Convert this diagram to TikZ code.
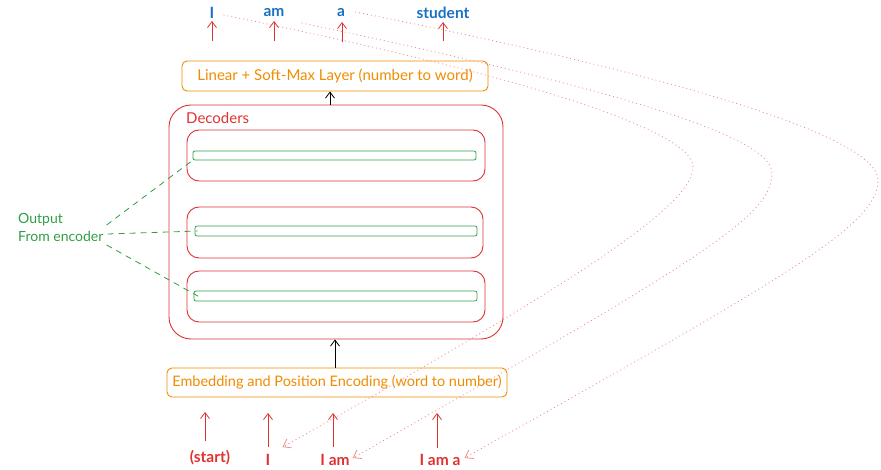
\documentclass[tikz,border=0pt]{standalone}
\usepackage{fontspec}
\setmainfont{Lato}
\usetikzlibrary{arrows.meta,calc}
\definecolor{wordblue}{HTML}{1971C2}
\definecolor{sketchred}{HTML}{E03131}
\definecolor{sketchorange}{HTML}{F08C00}
\definecolor{sketchgreen}{HTML}{2F9E44}
\definecolor{loopred}{HTML}{F08C8C}
\begin{document}
\begin{tikzpicture}[x=1pt,y=-1pt,
  word/.style={text=wordblue,font=\fontsize{15.5}{16}\selectfont\bfseries,inner sep=1pt},
  inword/.style={text=sketchred,font=\fontsize{15.5}{16}\selectfont\bfseries,inner sep=1pt},
  layerbox/.style={draw=sketchorange,line width=0.9pt,rounded corners=5pt,text=sketchorange,
    font=\fontsize{14.5}{16}\selectfont,inner sep=0pt},
  outerbox/.style={draw=sketchred,line width=0.9pt,rounded corners=22pt,inner sep=0pt},
  decbox/.style={draw=sketchred,line width=0.9pt,rounded corners=12pt,inner sep=0pt,
    minimum height=51pt},
  bar/.style={draw=sketchgreen,line width=0.8pt,rounded corners=2pt,inner sep=0pt},
  redarrow/.style={draw=sketchred,line width=0.8pt,-{Straight Barb[length=6pt,width=9pt]}},
  blackarrow/.style={draw=black,line width=0.8pt,-{Straight Barb[length=6pt,width=9pt]}},
  feed/.style={draw=sketchgreen,line width=0.8pt,dash pattern=on 6pt off 5pt},
  loop/.style={draw=loopred,line width=0.8pt,dash pattern=on 1pt off 3pt,
    -{Straight Barb[length=7pt,width=10pt]}}
]
\useasboundingbox (0,0) rectangle (881,470);

% predicted words
\node[word] (wI)  at (212,13) {I};
\node[word] (wam) at (274,13) {am};
\node[word] (wa)  at (341,13) {a};
\node[word] (wst) at (443,13) {student};
\coordinate (tI)  at (212,41);
\coordinate (tam) at (274,41);
\coordinate (ta)  at (342,42);
\coordinate (tst) at (443,41);
\draw[redarrow] (tI)  -- (212,21);
\draw[redarrow] (tam) -- (274,21);
\draw[redarrow] (ta)  -- (342,22);
\draw[redarrow] (tst) -- (443,22);

% output layer
\node[layerbox,minimum width=306pt,minimum height=30pt,font=\fontsize{15}{16}\selectfont]
  (lin) at (335,76) {Linear + Soft-Max Layer (number to word)};

% decoder stack
\node[outerbox,minimum width=334pt,minimum height=234pt] (dec) at (336,222) {};
\node[anchor=west,text=sketchred,font=\fontsize{15}{16}\selectfont,inner sep=0pt]
  (declab) at (186,118) {Decoders};
\node[decbox,minimum width=298pt] (d1) at (336,155.5) {};
\node[decbox,minimum width=296pt] (d2) at (335,232.5) {};
\node[decbox,minimum width=298pt] (d3) at (336,296.5) {};
\node[bar,minimum width=283pt,minimum height=9pt]  (b1) at (334.5,155.5) {};
\node[bar,minimum width=282pt,minimum height=10pt] (b2) at (336,231) {};
\node[bar,minimum width=283pt,minimum height=10pt] (b3) at (335.5,296) {};

\draw[blackarrow] ($(dec.north)+(-6,0)$) -- ($(lin.south)+(-5,0)$);

% encoder output
\node[text=sketchgreen,align=left,anchor=west,font=\fontsize{14}{18}\selectfont,inner sep=0pt]
  (enc) at (18,227) {Output\\From encoder};
\draw[feed] ($(enc.east)+(3,-2)$) -- (b1.south west);
\draw[feed] ($(enc.east)+(4,7)$) -- ($(b2.west)+(3,0)$);
\draw[feed] ($(enc.east)+(3,18)$) -- ($(b3.west)+(6,1)$);

% input layer
\node[layerbox,minimum width=340pt,minimum height=29pt] (emb) at (337,382.5)
  {Embedding and Position Encoding (word to number)};
\draw[blackarrow] ($(emb.north)+(-2,0)$) -- ($(dec.south)+(-1,0)$);

% decoder inputs
\node[inword] (s0) at (210,458) {(start)};
\node[inword] (s1) at (268,460) {I};
\node[inword] (s2) at (335,460) {I am};
\node[inword] (s3) at (440,460) {I am a};
\coordinate (u0) at (205,412);
\coordinate (u1) at (268,413);
\coordinate (u2) at (333,413);
\coordinate (u3) at (437,413);
\draw[redarrow] (205,441) -- (u0);
\draw[redarrow] (268,447) -- (u1);
\draw[redarrow] (333,447) -- (u2);
\draw[redarrow] (437,448) -- (u3);

% each predicted word is fed back as the next input
\coordinate (c1) at (693,167);
\coordinate (c2) at (772,173);
\coordinate (c3) at (878,180);
\draw[loop] ($(wI.east)+(8,2)$) .. controls (520,75) and (693,130) .. (c1)
  .. controls (693,205) and (580,280) .. ($(s1.north east)+(11,-6)$);
\draw[loop] ($(wam.east)+(16,10)$) .. controls (550,75) and (772,130) .. (c2)
  .. controls (772,215) and (710,255) .. ($(s2.east)+(2,-2)$);
\draw[loop] ($(wa.east)+(9,-1)$) .. controls (610,62) and (878,130) .. (c3)
  .. controls (878,225) and (790,275) .. ($(s3.east)+(3,-2)$);
\end{tikzpicture}
\end{document}
